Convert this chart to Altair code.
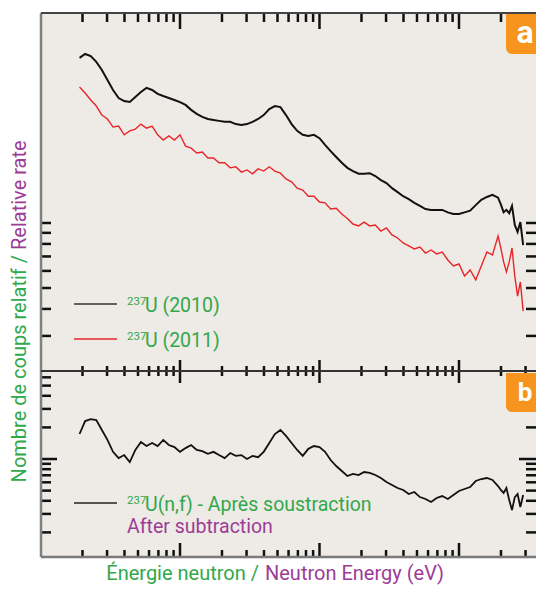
import altair as alt
import pandas as pd

# ---------------- data ----------------
energy = [1.905, 2.089, 2.291, 2.512, 2.754, 3.020, 3.311, 3.631, 3.981, 4.365, 4.786, 5.248,
          5.754, 6.310, 6.918, 7.586, 8.318, 9.120,
          10.0, 10.96, 12.02, 13.18, 14.45, 15.85, 17.38, 19.05, 20.89, 22.91, 25.12, 27.54,
          30.20, 33.11, 36.31, 39.81, 43.65, 47.86, 52.48, 57.54, 63.10, 69.18, 75.86, 83.18, 91.20,
          100.0, 109.6, 120.2, 131.8, 144.5, 158.5, 173.8, 190.5, 208.9, 229.1, 251.2, 275.4,
          302.0, 331.1, 363.1, 398.1, 436.5, 478.6, 524.8, 575.4, 631.0, 691.8, 758.6, 831.8, 912.0,
          1000, 1096, 1202, 1318, 1445, 1585, 1738, 1905,
          1995, 2089, 2188, 2291, 2399, 2512, 2630, 2754, 2884]

rate_2010 = [5.81, 6.06, 5.93, 5.57, 5.11, 4.59, 4.13, 3.79, 3.67, 3.63,
             3.83, 4.04, 4.22, 4.13, 3.96, 3.87, 3.79, 3.71, 3.63, 3.52,
             3.34, 3.20, 3.10, 3.03, 3.00, 2.97, 2.94, 2.94, 2.87, 2.84,
             2.87, 2.94, 3.03, 3.16, 3.37, 3.48, 3.44, 3.16, 2.87, 2.67,
             2.56, 2.53, 2.56, 2.47, 2.30, 2.15, 2.02, 1.90, 1.80, 1.74,
             1.69, 1.69, 1.70, 1.65, 1.58, 1.53, 1.45, 1.39, 1.33, 1.29,
             1.24, 1.20, 1.16, 1.15, 1.15, 1.15, 1.12, 1.10, 1.10, 1.12,
             1.14, 1.21, 1.28, 1.32, 1.35, 1.31, 1.22, 1.12, 1.15, 1.11,
             1.20, 0.98, 0.91, 1.01, 0.79]

rate_2011 = [4.26, 4.00, 3.71, 3.48, 3.16, 3.03, 2.78, 2.81, 2.56, 2.67,
             2.72, 2.87, 2.75, 2.81, 2.56, 2.42, 2.53, 2.42, 2.56, 2.27,
             2.22, 2.11, 2.13, 2.00, 2.00, 1.90, 1.90, 1.80, 1.82, 1.72,
             1.76, 1.69, 1.78, 1.74, 1.82, 1.74, 1.70, 1.60, 1.55, 1.45,
             1.42, 1.33, 1.33, 1.25, 1.24, 1.16, 1.17, 1.10, 1.05, 0.989,
             0.969, 1.01, 0.969, 0.979, 0.918, 0.948, 0.880, 0.852, 0.808, 0.783,
             0.758, 0.774, 0.726, 0.750, 0.719, 0.734, 0.674, 0.632, 0.646, 0.568,
             0.606, 0.545, 0.632, 0.734, 0.711, 0.871, 0.766, 0.660, 0.593, 0.660,
             0.766, 0.568, 0.459, 0.533, 0.391]

rate_sub = [1.73, 2.30, 2.40, 2.35, 1.89, 1.52, 1.17, 1.02, 1.09, 0.936,
            1.22, 1.45, 1.33, 1.42, 1.33, 1.52, 1.36, 1.30, 1.17, 1.27,
            1.36, 1.22, 1.19, 1.12, 1.17, 1.09, 1.02, 1.14, 1.07, 1.09,
            1.00, 1.07, 1.04, 1.17, 1.42, 1.73, 1.89, 1.66, 1.42, 1.22,
            1.07, 1.25, 1.33, 1.30, 1.17, 0.978, 0.858, 0.769, 0.689, 0.720,
            0.704, 0.752, 0.736, 0.704, 0.659, 0.604, 0.566, 0.529, 0.507, 0.464,
            0.485, 0.434, 0.416, 0.390, 0.425, 0.444, 0.416, 0.454, 0.496, 0.518,
            0.541, 0.617, 0.645, 0.659, 0.631, 0.553, 0.507, 0.475, 0.529, 0.407,
            0.327, 0.434, 0.464, 0.349, 0.454]

x_ticks_minor = [2, 3, 4, 5, 6, 7, 8, 9, 20, 30, 40, 50, 60, 70, 80, 90,
                 200, 300, 400, 500, 600, 700, 800, 900, 2000, 3000]
x_ticks_major = [10, 100, 1000]
ya_ticks = [0.3, 0.4, 0.5, 0.6, 0.7, 0.8, 0.9, 1.0]
yb_ticks_minor = [0.2, 0.3, 0.4, 0.5, 0.6, 0.7, 0.8, 0.9, 2, 3, 4, 5, 6]
yb_ticks_major = [1]

legend_a = ["U (2010)", "U (2011)"]
legend_b = "U(n,f) - Après soustraction"
legend_b2 = "After subtraction"
isotope = "237"

# ---------------- styling ----------------
W, H = 495, 544
HA = 358
GREEN = "#32A84B"
PURPLE = "#9C3C96"
ORANGE = "#F7941E"
BG = "#EEEAE6"
FONT = "Roboto"

xs = alt.Scale(type="log", domain=[1.0083, 3565], nice=False)
ysa = alt.Scale(type="log", domain=[0.2064, 9.38], range=[HA, 0], nice=False)
ysb = alt.Scale(type="log", domain=[0.1166, 6.89], range=[H, HA], nice=False)

df = pd.DataFrame({"E": energy, "r2010": rate_2010, "r2011": rate_2011, "rsub": rate_sub})
one = pd.DataFrame({"k": [0]})
X = alt.X("E:Q", scale=xs, axis=None)

# panel a
line10 = alt.Chart(df).mark_line(color="#111111", strokeWidth=2).encode(
    x=X, y=alt.Y("r2010:Q", scale=ysa, axis=None))
line11 = alt.Chart(df).mark_line(color="#E8262A", strokeWidth=1.4).encode(
    x=X, y=alt.Y("r2011:Q", scale=ysa, axis=None))
ta = pd.DataFrame({"v": ya_ticks})
ya_left = alt.Chart(ta).mark_rule(color="#111", strokeWidth=2.5).encode(
    y=alt.Y("v:Q", scale=ysa, axis=None), x=alt.value(0), x2=alt.value(10))
ya_right = alt.Chart(ta).mark_rule(color="#111", strokeWidth=2.5).encode(
    y=alt.Y("v:Q", scale=ysa, axis=None), x=alt.value(W - 10), x2=alt.value(W))
panel_a = alt.layer(line10, line11, ya_left, ya_right)

# panel b
lineb = alt.Chart(df).mark_line(color="#111111", strokeWidth=1.8).encode(
    x=X, y=alt.Y("rsub:Q", scale=ysb, axis=None))
tbm = pd.DataFrame({"v": yb_ticks_minor})
tbM = pd.DataFrame({"v": yb_ticks_major})
yb_l1 = alt.Chart(tbm).mark_rule(color="#111", strokeWidth=2.5).encode(
    y=alt.Y("v:Q", scale=ysb, axis=None), x=alt.value(0), x2=alt.value(10))
yb_l2 = alt.Chart(tbM).mark_rule(color="#111", strokeWidth=2.5).encode(
    y=alt.Y("v:Q", scale=ysb, axis=None), x=alt.value(0), x2=alt.value(16))
yb_r1 = alt.Chart(tbm).mark_rule(color="#111", strokeWidth=2.5).encode(
    y=alt.Y("v:Q", scale=ysb, axis=None), x=alt.value(W - 10), x2=alt.value(W))
yb_r2 = alt.Chart(tbM).mark_rule(color="#111", strokeWidth=2.5).encode(
    y=alt.Y("v:Q", scale=ysb, axis=None), x=alt.value(W - 17), x2=alt.value(W))
panel_b = alt.layer(lineb, yb_l1, yb_l2, yb_r1, yb_r2)

# x ticks (top, middle boundary, bottom), all pointing inward
txm = pd.DataFrame({"t": x_ticks_minor})
txM = pd.DataFrame({"t": x_ticks_major})
def xt(d, y0, y1):
    return alt.Chart(d).mark_rule(color="#111", strokeWidth=2.5).encode(
        x=alt.X("t:Q", scale=xs, axis=None), y=alt.value(y0), y2=alt.value(y1))
xticks = [xt(txm, 0, 9), xt(txM, 0, 16), xt(txm, HA - 5, HA + 5), xt(txM, HA - 11, HA + 12),
          xt(txm, H - 7, H), xt(txM, H - 14, H)]

# frame lines
def hline(y, color, w):
    return alt.Chart(one).mark_rule(color=color, strokeWidth=w).encode(
        y=alt.value(y), x=alt.value(0), x2=alt.value(W))
frame = [
    alt.Chart(one).mark_rule(color="#808080", strokeWidth=2.5).encode(
        x=alt.value(0), y=alt.value(0), y2=alt.value(H)),
    hline(0, "#444444", 2), hline(HA, "#333333", 2), hline(H, "#7a7a7a", 2.5),
]

# legends
def seg(y, color, w):
    return alt.Chart(one).mark_rule(color=color, strokeWidth=w).encode(
        y=alt.value(y), x=alt.value(33), x2=alt.value(76))
def txt(s, x, y, color, size, **kw):
    return alt.Chart(one).mark_text(text=s, font=FONT, fontSize=size, color=color,
                                    align=kw.pop("align", "left"), baseline="alphabetic", **kw).encode(
        x=alt.value(x), y=alt.value(y))
legend = [
    seg(291, "#333333", 1.6), seg(326, "#E8262A", 1.6), seg(490, "#222222", 1.6),
    txt(isotope, 86, 292, GREEN, 11.5), txt(legend_a[0], 104, 299, GREEN, 19.5),
    txt(isotope, 86, 327, GREEN, 11.5), txt(legend_a[1], 104, 334, GREEN, 19.5),
    txt(isotope, 86, 491, GREEN, 11.5), txt(legend_b, 104, 498, GREEN, 19.5),
    txt(legend_b2, 86, 520, PURPLE, 19.5),
]

# badges
def badge(y0, y1, letter, ty, size):
    r = alt.Chart(one).mark_rect(color=ORANGE, cornerRadiusBottomLeft=6).encode(
        x=alt.value(465), x2=alt.value(W), y=alt.value(y0), y2=alt.value(y1))
    t = alt.Chart(one).mark_text(text=letter, font=FONT, fontSize=size, fontWeight="bold",
                                 color="white", align="center", baseline="alphabetic").encode(
        x=alt.value(484), y=alt.value(ty))
    return [r, t]
badges = badge(1, 41, "a", 30, 32) + badge(360, 399, "b", 388, 26)

# axis titles (two colours each)
titles = [
    txt("Énergie neutron /", 218, 567, GREEN, 20, align="right"),
    txt("Neutron Energy (eV)", 224, 567, PURPLE, 20),
    txt("Nombre de coups relatif /", -15, 242, GREEN, 20, align="right", angle=270),
    txt("Relative rate", -15, 237, PURPLE, 20, angle=270),
]

chart = alt.layer(
    alt.layer(panel_a, panel_b).resolve_scale(y="independent"),
    *xticks, *frame, *legend, *badges, *titles
).properties(
    width=W, height=H,
    autosize=alt.AutoSizeParams(type="none"),
    padding={"left": 33, "top": 5, "right": 0, "bottom": 29},
    background="white",
).configure_view(stroke=None, fill=BG)

chart.save("out.html", embed_options={"renderer": "svg", "actions": False})
